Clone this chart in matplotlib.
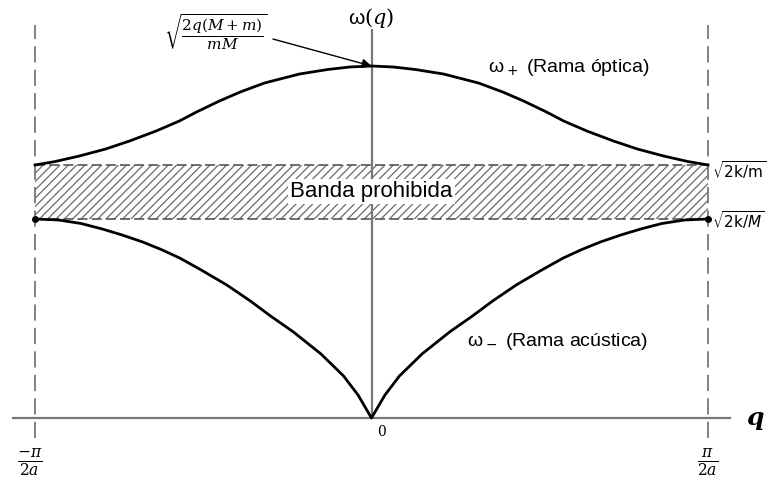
import numpy as np
import matplotlib.pyplot as plt

plt.rcParams['font.family'] = ['Liberation Sans', 'DejaVu Sans']
plt.rcParams['mathtext.fontset'] = 'dejavuserif'
plt.rcParams['hatch.linewidth'] = 0.9
plt.rcParams['hatch.color'] = '#6a6a6a'

# q in units of pi/(2a), omega in arbitrary units
q_opt = [0.0, 0.065, 0.13, 0.214, 0.318, 0.39, 0.452, 0.52, 0.571, 0.64,
         0.719, 0.79, 0.868, 0.94, 1.0]
w_opt = [3.52, 3.51, 3.485, 3.44, 3.35, 3.26, 3.17, 3.06, 2.97, 2.87,
         2.77, 2.69, 2.62, 2.565, 2.53]
q_ac = [0.0, 0.04, 0.083, 0.15, 0.232, 0.3, 0.36, 0.43, 0.506, 0.57,
        0.625, 0.68, 0.741, 0.8, 0.863, 0.93, 1.0]
w_ac = [0.0, 0.23, 0.42, 0.64, 0.86, 1.02, 1.17, 1.33, 1.48, 1.60,
        1.685, 1.76, 1.83, 1.89, 1.945, 1.98, 1.99]
w_gap_top = 2.53
w_gap_bot = 1.99
q_edge = 1.0

fig = plt.figure(figsize=(7.67, 4.82), dpi=100)
ax = fig.add_axes([0, 0, 1, 1])
ax.set_xlim(-371.5 / 336.5, (767 - 371.5) / 336.5)
ax.set_ylim((418 - 482) / 100, 4.18)
ax.axis('off')

gray = '#777777'
# axes
ax.plot([-1.066, 1.066], [0, 0], color=gray, lw=1.6, zorder=2)
ax.plot([0, 0], [0, 3.88], color=gray, lw=1.6, zorder=2)
# zone boundaries
for s in (-1, 1):
    ax.plot([s * q_edge, s * q_edge], [-0.2, 3.93], color=gray, lw=1.3,
            dashes=(9, 4), zorder=2)

# forbidden band
ax.fill_between([-q_edge, q_edge], w_gap_bot, w_gap_top, facecolor='white',
                hatch='////', edgecolor='#6a6a6a', lw=0, zorder=1)
for w in (w_gap_top, w_gap_bot):
    ax.plot([-q_edge, q_edge], [w, w], color='#555555', lw=1.2,
            dashes=(6, 2.5), zorder=2)
ax.text(0, 2.27, 'Banda prohibida', fontsize=16, ha='center', va='center',
        zorder=4, bbox=dict(facecolor='white', edgecolor='none', pad=1.5))

# branches, mirrored about q = 0
qo = np.array(q_opt)
qa = np.array(q_ac)
ax.plot(np.concatenate([-qo[::-1], qo[1:]]), w_opt[::-1] + w_opt[1:],
        color='black', lw=2, zorder=3, solid_joinstyle='round')
ax.plot(np.concatenate([-qa[::-1], qa[1:]]), w_ac[::-1] + w_ac[1:],
        color='black', lw=2, zorder=3, solid_joinstyle='round')
ax.plot([-q_edge, q_edge], [w_gap_bot, w_gap_bot], 'o', color='black',
        ms=4, zorder=3)

# labels
ax.text(0.345, 3.50, r'ω$_+$ (Rama óptica)', fontsize=14, va='center',
        ha='left', math_fontfamily='dejavusans')
ax.text(0.283, 0.76, r'ω$_-$ (Rama acústica)', fontsize=14, va='center',
        ha='left', math_fontfamily='dejavusans')
ax.text(1.012, 2.48, r'$\sqrt{2\mathrm{k/m}}$', fontsize=11, va='center',
        ha='left', math_fontfamily='dejavusans')
ax.text(1.012, 1.98, r'$\sqrt{2\mathrm{k/}M}$', fontsize=11, va='center',
        ha='left', math_fontfamily='dejavusans')
ax.text(0, 4.0, r'ω$(q)$', fontsize=15, ha='center', va='center')
ax.text(1.14, 0.0, 'q', fontsize=18, ha='center', va='center',
        family='DejaVu Serif', style='italic', weight='bold')
ax.text(0.03, -0.14, r'$\mathit{0}$', fontsize=10, ha='center', va='center')
ax.text(-1.015, -0.44, r'$\frac{-\pi}{2a}$', fontsize=16, ha='center', va='center')
ax.text(1.0, -0.44, r'$\frac{\pi}{2a}$', fontsize=16, ha='center', va='center')

ax.text(-0.462, 3.86, r'$\sqrt{\dfrac{2q(M+m)}{mM}}$', fontsize=11,
        ha='center', va='center')
ax.annotate('', xy=(0, w_opt[0]), xytext=(-0.293, 3.79),
            arrowprops=dict(arrowstyle='-|>', color='black', lw=1,
                            shrinkA=0, shrinkB=0, mutation_scale=14))

fig.savefig('out.png', dpi=100)
